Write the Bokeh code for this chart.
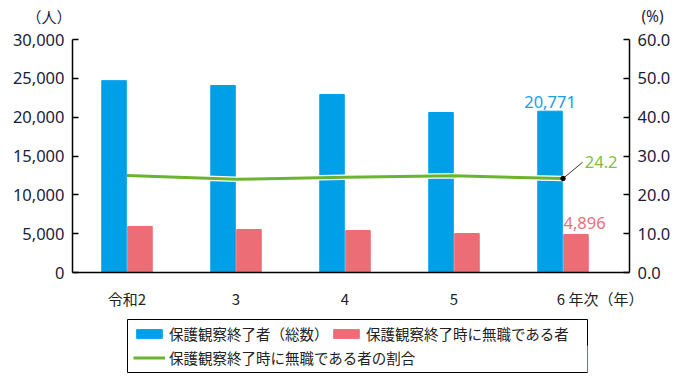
from bokeh.plotting import figure
from bokeh.layouts import column
from bokeh.models import (Range1d, LinearAxis, ColumnDataSource, Legend, LegendItem,
                          Label, NumeralTickFormatter, FixedTicker)
from bokeh.embed import file_html
from bokeh.resources import INLINE

categories = ["令和2", "3", "4", "5", "6 年次（年）"]
total = [24700, 24080, 22920, 20600, 20771]
jobless = [5930, 5540, 5410, 5020, 4896]
ratio = [25.0, 24.0, 24.5, 24.9, 24.2]
left_ticks = [0, 5000, 10000, 15000, 20000, 25000, 30000]
right_ticks = [0, 10, 20, 30, 40, 50, 60]
series_names = ["保護観察終了者（総数）", "保護観察終了時に無職である者", "保護観察終了時に無職である者の割合"]
unit_left = "（人）"
unit_right = "(%)"

BLUE = "#00a0e8"
RED = "#ed6d76"
GREEN = "#6cb42f"
TXT = "#1c1c3a"
CJK = "Noto Sans CJK JP"
NUM = "Noto Sans"

xs = list(range(len(categories)))
off = 0.119
src = ColumnDataSource(dict(
    x=xs,
    xb=[v - off for v in xs],
    xr=[v + off for v in xs],
    total=total, jobless=jobless, ratio=ratio,
))

# ---------- top strip with unit labels ----------
pt = figure(width=681, height=27, min_border=0, x_range=Range1d(0, 1), y_range=Range1d(0, 1),
            x_axis_location=None, y_axis_location=None, output_backend="svg", toolbar_location=None,
            frame_align=False)
pt.outline_line_color = None
pt.xgrid.visible = False
pt.ygrid.visible = False
pt.add_layout(Label(x=48.5, y=11.5, x_units="screen", y_units="screen", text=unit_left,
                    text_align="center", text_baseline="middle", text_font=CJK,
                    text_font_size="15px", text_color=TXT))
pt.add_layout(Label(x=652, y=11.5, x_units="screen", y_units="screen", text=unit_right,
                    text_align="center", text_baseline="middle", text_font=NUM,
                    text_font_size="15.5px", text_color=TXT))

# ---------- main chart ----------
p = figure(frame_width=557, frame_height=233, width=681, height=277,
           min_border_left=72, min_border_right=52, min_border_top=12, min_border_bottom=32,
           x_range=Range1d(-0.5, 4.61), y_range=Range1d(0, 30000),
           output_backend="svg", toolbar_location=None, frame_align=False)
p.extra_y_ranges = {"pct": Range1d(0, 60)}
p.outline_line_color = None
p.xgrid.visible = False
p.ygrid.visible = False

p.vbar(x="xb", top="total", width=0.225, color=BLUE, source=src)
p.vbar(x="xr", top="jobless", width=0.225, color=RED, source=src)
p.line(x="x", y="ratio", y_range_name="pct", line_color="white", line_width=5.5, source=src)
p.line(x="x", y="ratio", y_range_name="pct", line_color=GREEN, line_width=3, source=src)

last = len(xs) - 1
p.segment(x0=[xs[last]], y0=[ratio[last]], x1=[xs[last] + 0.18], y1=[ratio[last] + 4.2],
          y_range_name="pct", line_color="#333333", line_width=1)
p.scatter(x=[xs[last]], y=[ratio[last]], y_range_name="pct", size=4.5, color="black")

p.add_layout(Label(x=xs[last] - off, y=total[last], text=f"{total[last]:,}", text_align="center",
                   text_baseline="bottom", y_offset=3, text_color="#179fe4", text_font=NUM,
                   text_font_size="16.5px"))
p.add_layout(Label(x=xs[last] + off - 0.115, y=jobless[last], text=f"{jobless[last]:,}", text_align="left",
                   text_baseline="bottom", y_offset=5, text_color="#ec6f79", text_font=NUM,
                   text_font_size="16.5px"))
p.add_layout(Label(x=xs[last] + 0.2, y=ratio[last] + 4.2, y_range_name="pct", text=f"{ratio[last]}",
                   text_align="left", text_baseline="middle", text_color="#80bd42", text_font=NUM,
                   text_font_size="16.5px"))

# x axis: last label carries the unit text, so its anchor is moved right to keep "6" over its bars
tick_pos = xs[:-1] + [xs[-1] + 0.34]
p.xaxis.ticker = FixedTicker(ticks=tick_pos)
p.xaxis.major_label_overrides = {t: c for t, c in zip(tick_pos, categories)}
p.xaxis.major_tick_line_color = None
p.xaxis.minor_tick_line_color = None
p.xaxis.axis_line_color = "black"
p.xaxis.axis_line_width = 1.5
p.xaxis.major_label_text_font = CJK
p.xaxis.major_label_text_font_size = "15px"
p.xaxis.major_label_text_color = "#222222"
p.xaxis.major_label_standoff = 9

ya = p.yaxis[0]
ya.ticker = FixedTicker(ticks=left_ticks)
ya.formatter = NumeralTickFormatter(format="0,0")
ya.major_tick_in = 6
ya.major_tick_out = 0
ya.minor_tick_line_color = None
ya.axis_line_color = "black"
ya.axis_line_width = 1.5
ya.major_tick_line_width = 1.5
ya.major_label_text_font = NUM
ya.major_label_text_font_size = "16.5px"
ya.major_label_text_color = TXT
ya.major_label_standoff = 8

ra = LinearAxis(y_range_name="pct", ticker=FixedTicker(ticks=right_ticks),
                formatter=NumeralTickFormatter(format="0.0"))
ra.major_tick_in = 6
ra.major_tick_out = 0
ra.minor_tick_line_color = None
ra.axis_line_color = "black"
ra.axis_line_width = 1.5
ra.major_tick_line_width = 1.5
ra.major_label_text_font = NUM
ra.major_label_text_font_size = "16.5px"
ra.major_label_text_color = TXT
ra.major_label_standoff = 8
p.add_layout(ra, "right")

# ---------- legend strip ----------
pl = figure(frame_width=460, frame_height=53, width=681, height=72,
            min_border_left=127, min_border_right=94, min_border_top=8, min_border_bottom=11,
            x_range=Range1d(0, 1), y_range=Range1d(0, 1),
            x_axis_location=None, y_axis_location=None, output_backend="svg", toolbar_location=None,
            frame_align=False)
pl.xgrid.visible = False
pl.ygrid.visible = False
pl.outline_line_color = "black"
pl.outline_line_width = 1
# legend-only glyphs, placed outside the visible range
gb = pl.vbar(x=[5], top=[0.5], width=0.1, color=BLUE)
gr = pl.vbar(x=[5], top=[0.5], width=0.1, color=RED)
gl = pl.line(x=[5, 6], y=[0.5, 0.5], line_color=GREEN, line_width=3)

def mk_legend(label, renderer, loc):
    lg = Legend(items=[LegendItem(label=label, renderers=[renderer])], location=loc,
                orientation="horizontal", padding=0, margin=0, spacing=0,
                border_line_alpha=0, background_fill_alpha=0,
                glyph_width=32, glyph_height=11, label_height=20, label_standoff=4,
                label_text_font=CJK, label_text_font_size="14.5px", label_text_color="#222222")
    pl.add_layout(lg, "center")

mk_legend(series_names[0], gb, (6, 28))
mk_legend(series_names[1], gr, (203, 28))
mk_legend(series_names[2], gl, (6, 4))

layout = column(pt, p, pl, spacing=0)
open("out.html", "w").write(file_html(layout, INLINE))
